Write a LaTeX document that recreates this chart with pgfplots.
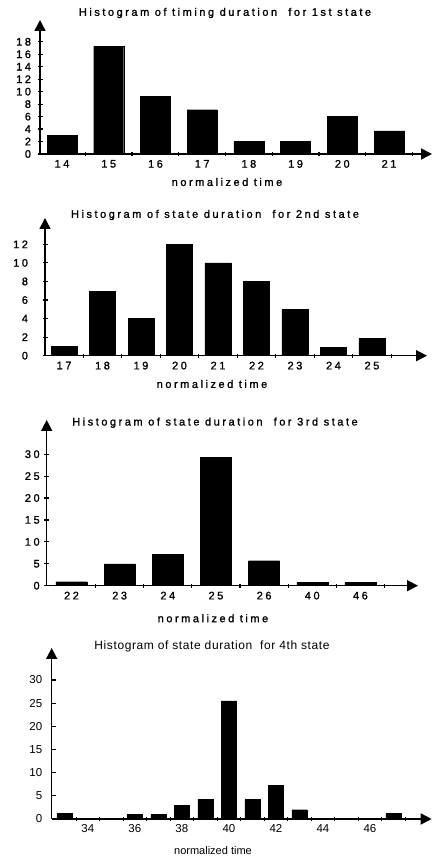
\documentclass[border=0pt]{standalone}
\usepackage{fontspec}
\setmainfont{Liberation Sans}
\newfontfamily\spaced[LetterSpace=23,FakeBold=1.2]{Liberation Sans}
\newfontfamily\slight[LetterSpace=5]{Liberation Sans}
\usepackage{pgfplots}
\pgfplotsset{compat=1.18}
\usetikzlibrary{arrows.meta}

\pgfplotsset{
  oldhist/.style={
    scale only axis,
    axis lines=left,
    axis line style={line width=1.5pt, -{Triangle[length=11pt,width=11pt]}},
    ybar,
    /pgf/number format/assume math mode=true,
    tick style={black, line width=1.2pt},
    major tick length=5pt,
    minor tick length=4pt,
    tick align=center,
    major x tick style={draw=none},
    ymin=0,
    clip=false,
  },
  spacedfont/.style={
    ticklabel style={font=\spaced\fontsize{11}{13}\selectfont},
  },
}
\newcommand{\sfont}{\spaced\fontsize{11}{13}\selectfont}

\begin{document}
\begin{tikzpicture}
\path[use as bounding box] (0,0) rectangle (433pt,858pt);

% ---- 1st state
\begin{axis}[oldhist, spacedfont,
    at={(40pt,704pt)}, anchor=south west,
    width=392pt, height=134pt,
    xmin=-0.471, xmax=7.92, ymax=21.5,
    bar width=30pt,
    xtick={0,...,7}, xticklabels={14,15,16,17,18,19,20,21},
    minor xtick={0.5,1.5,...,7.5},
    ytick={0,2,...,18},
    yticklabel style={xshift=-3pt},
]
\addplot[fill=black, draw=black] coordinates {(0,3) (1,17.3) (2,9.2) (3,7.1) (4,2) (5,2) (6,6) (7,3.7)};
\end{axis}
\node[font=\sfont] at (225pt,845pt) {Histogram of timing duration~~for 1st state};
\node[font=\sfont] at (227pt,676pt) {normalized time};

% ---- 2nd state
\begin{axis}[oldhist, spacedfont,
    at={(45pt,502.3pt)}, anchor=south west,
    width=382pt, height=137.7pt,
    xmin=-0.494, xmax=9.43, ymax=14.84,
    bar width=26pt,
    xtick={0,...,8}, xticklabels={17,18,19,20,21,22,23,24,25},
    minor xtick={0.5,1.5,...,9.5},
    ytick={0,2,...,12},
    yticklabel style={xshift=-11pt},
]
\addplot[fill=black, draw=black] coordinates {(0,1) (1,6.9) (2,4) (3,12) (4,10) (5,8) (6,5) (7,0.9) (8,1.9)};
\end{axis}
\node[font=\sfont] at (215pt,643pt) {Histogram of state duration~~for 2nd state};
\node[font=\sfont] at (212pt,474pt) {normalized time};

% ---- 3rd state
\begin{axis}[oldhist, spacedfont,
    at={(46.7pt,272.3pt)}, anchor=south west,
    width=371.3pt, height=165.7pt,
    xmin=-0.515, xmax=7.196, ymax=37.8,
    bar width=31pt,
    xtick={0,...,6}, xticklabels={22,23,24,25,26,40,46},
    minor xtick={0.5,1.5,...,6.5},
    ytick={0,5,...,30},
    yticklabel style={xshift=-1pt},
]
\addplot[fill=black, draw=black] coordinates {(0,0.9) (1,5) (2,7.2) (3,29.2) (4,5.7) (5,0.7) (6,0.7)};
\end{axis}
\node[font=\sfont] at (215pt,435.3pt) {Histogram of state duration~~for 3rd state};
\node[font=\sfont] at (213pt,239.7pt) {normalized time};

% ---- 4th state
\begin{axis}[oldhist,
    at={(51.7pt,39pt)}, anchor=south west,
    width=380pt, height=171pt,
    xmin=32.46, xmax=48.63, ymax=36.9,
    bar width=15pt,
    ticklabel style={font=\fontsize{11.5}{13}\selectfont},
    xtick={34,36,...,46},
    minor xtick={33.5,34.5,...,47.5},
    ytick={0,5,...,30},
    ytick align=inside, major tick length=4pt,
    yticklabel style={xshift=-6pt},
]
\addplot[fill=black, draw=black] coordinates {(33,1.2) (36,1) (37,1) (38,3) (39,4.3) (40,25.5) (41,4.2) (42,7.3) (43,2) (47,1.2)};
\end{axis}
\node[font=\slight\fontsize{12}{14}\selectfont] at (212pt,211.3pt) {Histogram of state duration~~for 4th state};
\node[font=\fontsize{11}{13}\selectfont] at (213pt,7pt) {normalized time};
\end{tikzpicture}
\end{document}
